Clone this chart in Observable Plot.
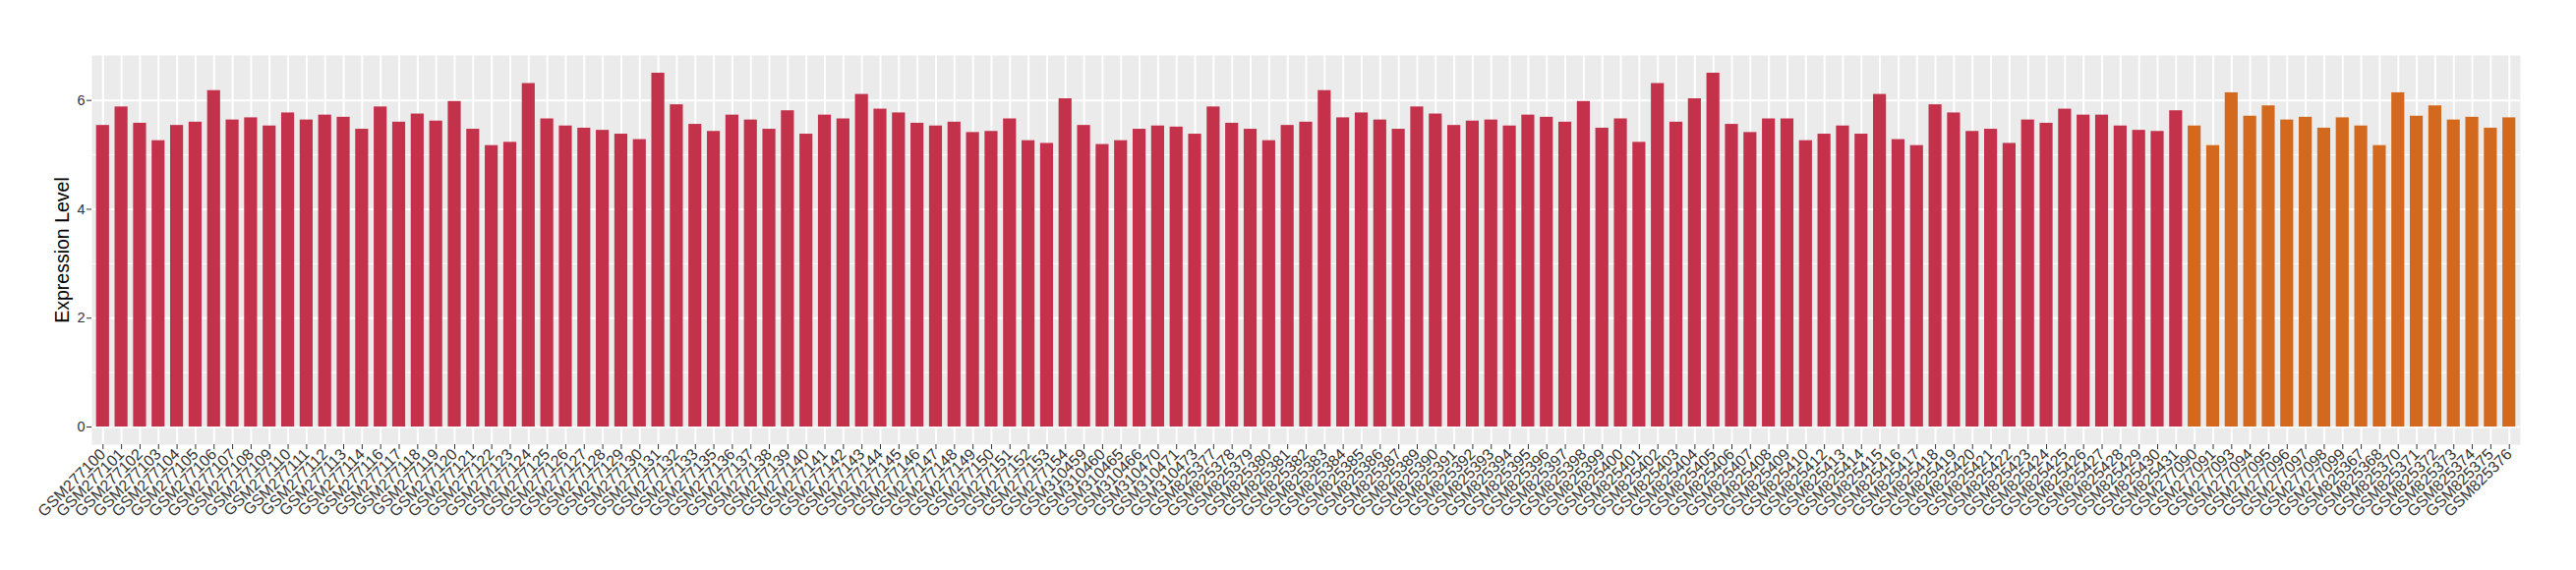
<!DOCTYPE html>
<html>
<head>
<meta charset="utf-8">
<script src="https://cdn.jsdelivr.net/npm/d3@7"></script>
<script src="https://cdn.jsdelivr.net/npm/@observablehq/plot@0.6"></script>
<style>
  html, body { margin: 0; padding: 0; background: #fff; }
  #chart svg { display: block; }
</style>
</head>
<body>
<div id="chart"></div>
<script>
// Sample labels (x categories), in plotted order
const groupA = [
  "GSM277100","GSM277101","GSM277102","GSM277103","GSM277104","GSM277105","GSM277106","GSM277107","GSM277108","GSM277109",
  "GSM277110","GSM277111","GSM277112","GSM277113","GSM277114","GSM277116","GSM277117","GSM277118","GSM277119","GSM277120",
  "GSM277121","GSM277122","GSM277123","GSM277124","GSM277125","GSM277126","GSM277127","GSM277128","GSM277129","GSM277130",
  "GSM277131","GSM277132","GSM277133","GSM277135","GSM277136","GSM277137","GSM277138","GSM277139","GSM277140","GSM277141",
  "GSM277142","GSM277143","GSM277144","GSM277145","GSM277146","GSM277147","GSM277148","GSM277149","GSM277150","GSM277151",
  "GSM277152","GSM277153","GSM277154","GSM310459","GSM310460","GSM310465","GSM310466","GSM310470","GSM310471","GSM310473",
  "GSM825377","GSM825378","GSM825379","GSM825380","GSM825381","GSM825382","GSM825383","GSM825384","GSM825385","GSM825386",
  "GSM825387","GSM825389","GSM825390","GSM825391","GSM825392","GSM825393","GSM825394","GSM825395","GSM825396","GSM825397",
  "GSM825398","GSM825399","GSM825400","GSM825401","GSM825402","GSM825403","GSM825404","GSM825405","GSM825406","GSM825407",
  "GSM825408","GSM825409","GSM825410","GSM825412","GSM825413","GSM825414","GSM825415","GSM825416","GSM825417","GSM825418",
  "GSM825419","GSM825420","GSM825421","GSM825422","GSM825423","GSM825424","GSM825425","GSM825426","GSM825427","GSM825428",
  "GSM825429","GSM825430","GSM825431"
];
const valuesA = [
  5.54,5.88,5.58,5.26,5.54,5.60,6.18,5.64,5.68,5.53,
  5.77,5.64,5.73,5.69,5.47,5.88,5.60,5.75,5.62,5.98,
  5.47,5.17,5.23,6.31,5.66,5.53,5.49,5.45,5.38,5.28,
  6.50,5.92,5.56,5.43,5.73,5.64,5.47,5.81,5.38,5.73,
  5.66,6.11,5.84,5.77,5.58,5.53,5.60,5.41,5.43,5.66,
  5.26,5.21,6.03,5.54,5.19,5.26,5.47,5.53,5.51,5.38,
  5.88,5.58,5.47,5.26,5.54,5.60,6.18,5.68,5.77,5.64,
  5.47,5.88,5.75,5.54,5.62,5.64,5.53,5.73,5.69,5.60,
  5.98,5.49,5.66,5.23,6.31,5.60,6.03,6.50,5.56,5.41,
  5.66,5.66,5.26,5.38,5.53,5.38,6.11,5.28,5.17,5.92,
  5.77,5.43,5.47,5.21,5.64,5.58,5.84,5.73,5.73,5.53,
  5.45,5.43,5.81
];
const groupB = [
  "GSM277090","GSM277091","GSM277093","GSM277094","GSM277095","GSM277096","GSM277097","GSM277098","GSM277099",
  "GSM825367","GSM825368","GSM825370","GSM825371","GSM825372","GSM825373","GSM825374","GSM825375","GSM825376"
];
const valuesB = [
  5.53,5.17,6.14,5.71,5.90,5.64,5.69,5.49,5.68,
  5.53,5.17,6.14,5.71,5.90,5.64,5.69,5.49,5.68
];
const groupNames = ["A", "B"];
const groupColors = ["#C3314A", "#D2691E"];
const yTicks = [0, 2, 4, 6];
const yMinorTicks = [1, 3, 5];
const yLabel = "Expression Level";

const data = [
  ...groupA.map((s, i) => ({sample: s, value: valuesA[i], group: groupNames[0]})),
  ...groupB.map((s, i) => ({sample: s, value: valuesB[i], group: groupNames[1]}))
];
const order = data.map(d => d.sample);
const maxV = d3.max(data, d => d.value);

const chart = Plot.plot({
  width: 2620,
  height: 580,
  marginLeft: 93,
  marginRight: 57,
  marginTop: 56,
  marginBottom: 128,
  style: {fontFamily: "'Liberation Sans', Arial, sans-serif", background: "#fff"},
  x: {type: "band", domain: order, paddingInner: 0.3, paddingOuter: 0.25, align: 0.5},
  y: {domain: [-0.05 * maxV, 1.05 * maxV]},
  color: {domain: groupNames, range: groupColors},
  marks: [
    Plot.frame({fill: "#EBEBEB", stroke: null}),
    Plot.ruleY(yMinorTicks, {stroke: "#fff", strokeWidth: 1}),
    Plot.ruleY(yTicks, {stroke: "#fff", strokeWidth: 2}),
    Plot.ruleX(order, {x: d => d, stroke: "#fff", strokeWidth: 2}),
    Plot.barY(data, {x: "sample", y: "value", fill: "group"}),
    Plot.axisY({
      ticks: yTicks, tickSize: 5, tickPadding: 2, stroke: "#333", color: "#333",
      fontSize: 14.5, label: yLabel, labelAnchor: "center", labelArrow: false, labelOffset: 37
    }),
    Plot.axisX({
      tickSize: 5, tickPadding: 2, tickRotate: -45, stroke: "#333", color: "#333",
      fontSize: 16, label: null
    })
  ]
});

// style y axis title
chart.querySelectorAll("g[aria-label='y-axis label'] text").forEach(t => {
  t.setAttribute("font-size", "19.5");
  t.setAttribute("fill", "#000");
});
document.getElementById("chart").appendChild(chart);
</script>
</body>
</html>
